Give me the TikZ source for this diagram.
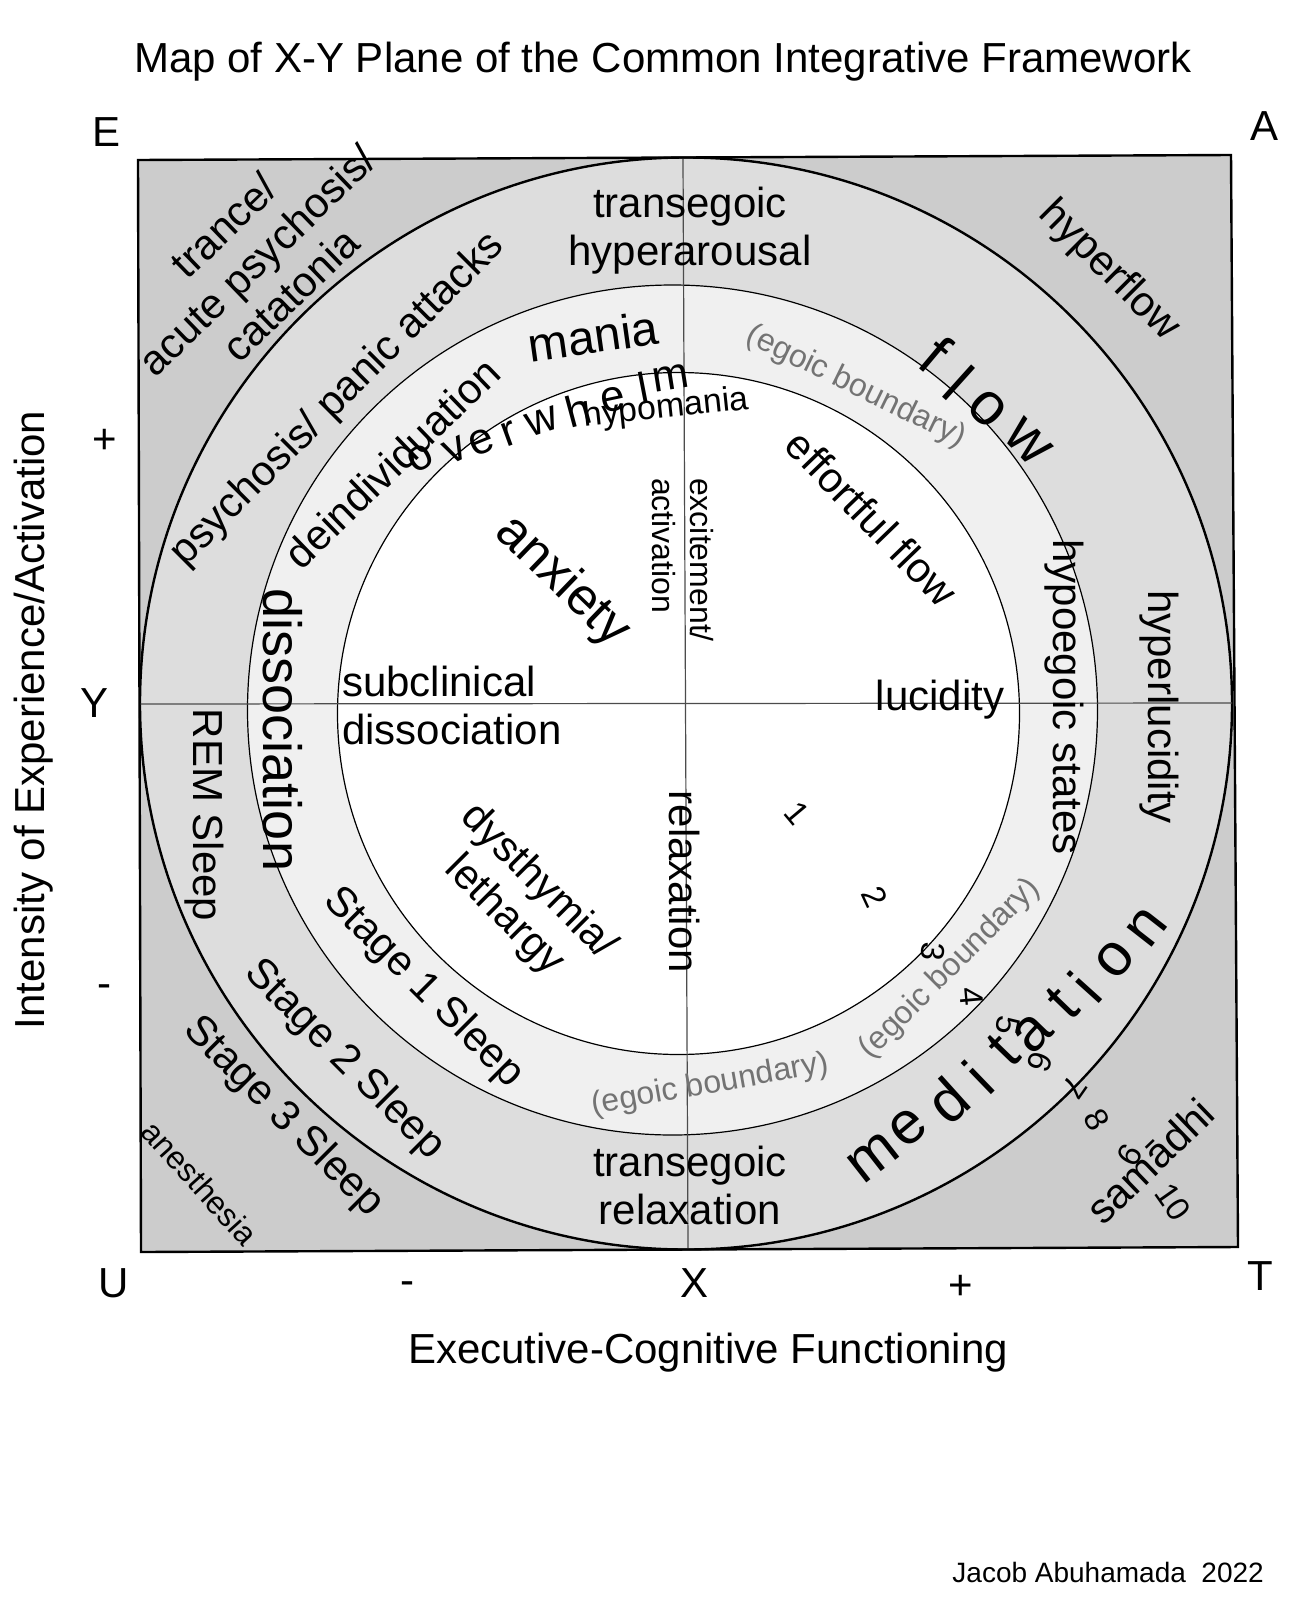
\documentclass[tikz,border=0pt]{standalone}
\usepackage{fontspec}
\setmainfont{Liberation Sans}
\usepackage{xcolor}
\definecolor{cornergray}{gray}{0.80}
\definecolor{outergray}{gray}{0.865}
\definecolor{middlegray}{gray}{0.94}
\definecolor{bndgray}{gray}{0.45}
\usepackage{tikz}
\usetikzlibrary{positioning}
\tikzset{
  lbl/.style={inner sep=0pt,align=center,font=\fontsize{42}{48}\selectfont},
  spaced/.style={inner sep=0pt,font=\fontsize{60}{66}\selectfont},
  bnd/.style={inner sep=0pt,text=bndgray,font=\fontsize{32}{36}\selectfont},
  num/.style={inner sep=0pt,font=\fontsize{33}{36}\selectfont},
  ring/.style={draw=black,line width=1.2pt},
  rim/.style={draw=black,line width=2.4pt},
  axisline/.style={draw=black!70,line width=1.2pt},
}

\begin{document}
\begin{tikzpicture}[x=1pt,y=-1pt]
\useasboundingbox (0,0) rectangle (1292,1601);
\fill[white] (0,0) rectangle (1292,1601);
% plane and rings
\fill[cornergray] (138,160) -- (1231,155) -- (1238,1247) -- (141,1252) -- cycle;
\draw[rim,fill=outergray] (686,703.5) circle[radius=546];
\draw[ring,fill=middlegray] (672.5,710) circle[radius=425];
\draw[ring,fill=white] (678.5,713.5) circle[radius=341];
\draw[axisline] (683,158) -- (688,1249);
\draw[axisline] (140,704) -- (1232,703);
\draw[rim] (138,160) -- (1231,155) -- (1238,1247) -- (141,1252) -- cycle;

% title and axes
\node[lbl,anchor=base] (title) at (663,72) {Map of X-Y Plane of the Common Integrative Framework};
\node[lbl,anchor=base] (cE) at (107,146) {E};
\node[lbl,anchor=base] (cA) at (1264,140) {A};
\node[lbl,anchor=base] (cU) at (114,1297) {U};
\node[lbl,anchor=base] (cT) at (1260,1290) {T};
\node[lbl,anchor=base] (xminus) at (407,1294) {-};
\node[lbl,anchor=base] (xmid) at (694,1297) {X};
\node[lbl,anchor=base] (xplus) at (961,1299) {+};
\node[lbl] (yplus) at (105,441) {+};
\node[lbl] (ymid) at (95,703) {Y};
\node[lbl] (yminus) at (104,991) {-};
\node[lbl,rotate=90] (ylabel) at (34,720) {Intensity of Experience/Activation};
\node[lbl,anchor=base] (xlabel) at (708,1363) {Executive-Cognitive Functioning};
\node[inner sep=0pt,anchor=base east,font=\fontsize{28}{32}\selectfont] (sign) at (1264,1582) {Jacob Abuhamada\ \ 2022};

% outer corners
\node[lbl,rotate=44] (trance) at (257,260) {trance/\\acute psychosis/\\catatonia};
\node[lbl,rotate=-45] (hyperflow) at (1109,271) {hyperflow};
\node[lbl,rotate=44] (samadhi) at (1150,1161) {samādhi};
\node[lbl,rotate=-48,font=\fontsize{32}{36}\selectfont] (anesthesia) at (200,1183) {anesthesia};
\node[lbl,rotate=-45] (stage3) at (283,1117) {Stage 3 Sleep};

% outer ring
\node[lbl] (hyperarousal) at (690,231) {transegoic\\hyperarousal};
\node[lbl] (transrelax) at (690,1185) {transegoic\\relaxation};
\node[lbl,rotate=45] (psychosis) at (338,400) {psychosis/ panic attacks};
\node[lbl,rotate=-90] (remsleep) at (204,815) {REM Sleep};
\node[lbl,rotate=-45] (stage2) at (344,1060) {Stage 2 Sleep};
\node[lbl,rotate=-90] (hyperlucid) at (1159,707) {hyperlucidity};

% middle ring
\node[lbl,rotate=44] (deindiv) at (392,463) {deindividuation};
\node[lbl,rotate=8,font=\fontsize{48}{54}\selectfont] (mania) at (593,336) {mania};
\node[lbl,rotate=-90,font=\fontsize{54}{60}\selectfont] (dissoc) at (283,730) {dissociation};
\node[lbl,rotate=-45] (stage1) at (423,988) {Stage 1 Sleep};
\node[lbl,rotate=-90] (hypoegoic) at (1064,697) {hypoegoic states};
\node[bnd,rotate=-26] (bndtop) at (856,387) {(egoic boundary)};
\node[bnd,rotate=45] (bndright) at (950,969) {(egoic boundary)};
\node[bnd,rotate=10] (bndbottom) at (710,1085) {(egoic boundary)};

% inner circle
\node[lbl,rotate=6,font=\fontsize{34}{38}\selectfont] (hypomania) at (666,409) {hypomania};
\node[lbl,rotate=-44,font=\fontsize{52}{58}\selectfont] (anxiety) at (562,582) {anxiety};
\node[lbl,rotate=-90,align=left,font=\fontsize{32}{38}\selectfont] (excite) at (683,560) {excitement/\\activation};
\node[lbl,rotate=-46] (effortful) at (872,518) {effortful flow};
\node[lbl,anchor=base] (lucidity) at (940,710) {lucidity};
\node[lbl,anchor=west,align=left] (subclin) at (342,705) {subclinical\\dissociation};
\node[lbl,rotate=-45] (dysthymia) at (521,899) {dysthymia/\\lethargy};
\node[lbl,rotate=-90] (relaxation) at (685,882) {relaxation};

% spaced words
\foreach \ch/\x/\y/\a [count=\k] in {o/420/458/30,v/455/450/26,e/481/442/22,r/509/434/20,w/542/422/18,h/578/410/15,e/613/400/12,l/643/388/11,m/671/378/9}
  \node[lbl,font=\fontsize{44}{48}\selectfont,rotate=\a] (ow\k) at (\x,\y) {\ch};
\foreach \ch/\x/\y/\a [count=\k] in {f/936/354/-40,l/959/383/-42,o/987/409/-44,w/1028/442/-46}
  \node[spaced,rotate=\a] (fl\k) at (\x,\y) {\ch};
\foreach \ch/\x/\y/\a [count=\k] in {m/873/1157/38,e/908/1128/40,d/948/1100/42,i/978/1077/44,t/1003/1050/46,a/1033/1033/46,t/1062/1003/46,i/1085/987/48,o/1115/960/50,n/1147/927/52}
  \node[spaced,rotate=\a] (md\k) at (\x,\y) {\ch};

% depth scale
\foreach \n/\x/\y/\a in {1/797/813/-50,2/875/897/-65,3/933/952/-95,4/972/997/-85,5/1008/1025/-100,6/1040/1062/-110,7/1075/1088/-125,8/1097/1120/-60,9/1130/1155/-120,10/1173/1202/-55}
  \node[num,rotate=\a] (d\n) at (\x,\y) {\n};
\end{tikzpicture}
\end{document}
